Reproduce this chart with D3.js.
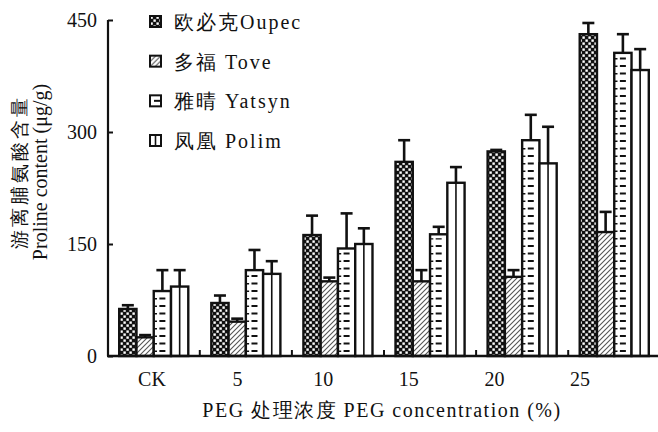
<!DOCTYPE html>
<html>
<head>
<meta charset="utf-8">
<script src="https://cdn.jsdelivr.net/npm/d3@7"></script>
<style>
  html, body { margin: 0; padding: 0; background: #fff; }
  svg { display: block; }
  .serif { font-family: "Liberation Serif"; fill: #111; }
</style>
</head>
<body>
<svg id="chart" width="658" height="432"></svg>
<script>
// PEG concentration groups and their axis labels
const categories = ["CK", "5", "10", "15", "20", "25"];
// Cultivars (legend order)
const seriesKeys = ["oupec", "tove", "yatsyn", "polim"];
const seriesNames = ["欧必克Oupec", "多福 Tove", "雅晴 Yatsyn", "凤凰 Polim"];
// Proline content (μg/g), mean per group
const oupecValues  = [63, 71, 162, 260, 274, 431];
const toveValues   = [25, 46, 100, 100, 106, 166];
const yatsynValues = [87, 115, 144, 163, 289, 406];
const polimValues  = [93, 110, 150, 232, 258, 383];
// Standard errors (upper whiskers)
const oupecErr  = [5, 10, 26, 29, 2, 15];
const toveErr   = [3, 4, 5, 15, 9, 27];
const yatsynErr = [28, 27, 47, 10, 34, 25];
const polimErr  = [22, 17, 21, 21, 49, 28];
// Y axis ticks
const yTicks = [0, 150, 300, 450];

const values = [oupecValues, toveValues, yatsynValues, polimValues];
const errors = [oupecErr, toveErr, yatsynErr, polimErr];

const svg = d3.select("#chart");
const defs = svg.append("defs");

// Checkerboard fill
const chk = defs.append("pattern").attr("id", "fill-oupec")
  .attr("patternUnits", "userSpaceOnUse").attr("width", 6).attr("height", 6);
chk.append("rect").attr("width", 6).attr("height", 6).attr("fill", "#111");
chk.append("rect").attr("x", 0.4).attr("y", 0.4).attr("width", 2.4).attr("height", 2.4).attr("fill", "#fff");
chk.append("rect").attr("x", 3.4).attr("y", 3.4).attr("width", 2.4).attr("height", 2.4).attr("fill", "#fff");

// Diagonal hatch fill
const hat = defs.append("pattern").attr("id", "fill-tove")
  .attr("patternUnits", "userSpaceOnUse").attr("width", 5).attr("height", 5);
hat.append("rect").attr("width", 5).attr("height", 5).attr("fill", "#fff");
hat.append("path").attr("d", "M0,5 L5,0 M-1,1 L1,-1 M4,6 L6,4")
  .attr("stroke", "#555").attr("stroke-width", 1.1);

const fills = ["url(#fill-oupec)", "url(#fill-tove)", "#fff", "#fff"];

// Scales
const y = d3.scaleLinear().domain([0, 450]).range([356, 20]);
const x0 = d3.scaleBand().domain(categories).range([110, 658])
  .paddingInner(0.25).paddingOuter(0.1);
const x1 = d3.scaleBand().domain(seriesKeys).range([0, x0.bandwidth()]);
const xLabel = d3.scalePoint().domain(categories).range([152, 580]);

// Bars
const rows = [];
categories.forEach((c, i) => {
  seriesKeys.forEach((k, j) => {
    rows.push({ c, k, j, v: values[j][i], e: errors[j][i] });
  });
});

const g = svg.append("g");
const bars = g.selectAll("g.bar").data(rows).join("g").attr("class", "bar");
const cx = d => x0(d.c) + x1(d.k) + x1.bandwidth() / 2;

// Error whiskers (drawn under the bars, upper side only)
bars.append("line")
  .attr("x1", cx).attr("x2", cx)
  .attr("y1", d => y(d.v))
  .attr("y2", d => y(d.v + d.e))
  .attr("stroke", "#111").attr("stroke-width", 2.6);
bars.append("line")
  .attr("x1", d => cx(d) - 6).attr("x2", d => cx(d) + 6)
  .attr("y1", d => y(d.v + d.e))
  .attr("y2", d => y(d.v + d.e))
  .attr("stroke", "#111").attr("stroke-width", 2.6);

bars.append("rect")
  .attr("x", d => x0(d.c) + x1(d.k))
  .attr("y", d => y(d.v))
  .attr("width", x1.bandwidth())
  .attr("height", d => y(0) - y(d.v))
  .attr("fill", d => fills[d.j])
  .attr("stroke", "#111").attr("stroke-width", 2.4);

// Yatsyn: short horizontal dashes down the middle
bars.filter(d => d.k === "yatsyn").append("line")
  .attr("x1", cx).attr("x2", cx)
  .attr("y1", d => y(0) - 4)
  .attr("y2", d => y(d.v) + 4)
  .attr("stroke", "#111").attr("stroke-width", 6)
  .attr("stroke-dasharray", "2,5.5");
bars.filter(d => d.k === "yatsyn").append("line")
  .attr("x1", d => x0(d.c) + x1(d.k) + 2)
  .attr("x2", d => x0(d.c) + x1(d.k) + 2)
  .attr("y1", d => y(0) - 4)
  .attr("y2", d => y(d.v) + 4)
  .attr("stroke", "#111").attr("stroke-width", 2.5)
  .attr("stroke-dasharray", "1.5,6");

// Polim: single vertical divider
bars.filter(d => d.k === "polim").append("line")
  .attr("x1", cx).attr("x2", cx)
  .attr("y1", y(0))
  .attr("y2", d => y(d.v))
  .attr("stroke", "#111").attr("stroke-width", 1.6);

// Y axis with inward ticks
const yAxis = svg.append("g").attr("transform", "translate(108,0)")
  .call(d3.axisLeft(y).tickValues(yTicks).tickSize(-5).tickPadding(11));
yAxis.attr("font-family", null).attr("font-size", null);
yAxis.select(".domain").attr("stroke", "#111").attr("stroke-width", 2.2)
  .attr("d", `M0,${y(0)}V${y(450)}`);
yAxis.selectAll(".tick line").attr("stroke", "#111").attr("stroke-width", 2);
yAxis.selectAll(".tick text").attr("class", "serif")
  .style("font-family", "Liberation Serif").style("font-size", "20px");

// X baseline with small inward separators between groups
svg.append("line").attr("x1", 107).attr("x2", 658)
  .attr("y1", y(0)).attr("y2", y(0))
  .attr("stroke", "#111").attr("stroke-width", 2.4);
const seps = categories.slice(1).map(c => x0(c) - x0.step() * x0.paddingInner() / 2);
svg.selectAll("line.sep").data(seps).join("line").attr("class", "sep")
  .attr("x1", d => d).attr("x2", d => d)
  .attr("y1", y(0)).attr("y2", y(0) - 6)
  .attr("stroke", "#111").attr("stroke-width", 2);

// Category labels
svg.selectAll("text.cat").data(categories).join("text").attr("class", "cat serif")
  .attr("x", d => xLabel(d)).attr("y", 386)
  .attr("text-anchor", "middle").style("font-size", "20px")
  .text(d => d);

// Axis titles
svg.append("text").attr("class", "serif").attr("x", 382).attr("y", 417)
  .attr("text-anchor", "middle").style("font-size", "20px")
  .attr("letter-spacing", 1.5)
  .text("PEG 处理浓度 PEG concentration (%)");

svg.append("text").attr("class", "serif").attr("transform", "translate(26,172) rotate(-90)")
  .attr("text-anchor", "middle").style("font-size", "19px")
  .attr("letter-spacing", 3)
  .text("游离脯氨酸含量");
svg.append("text").attr("class", "serif").attr("transform", "translate(47,172) rotate(-90)")
  .attr("text-anchor", "middle").style("font-size", "20px")
  .text("Proline content (μg/g)");

// Legend
const legendY = d3.scalePoint().domain(seriesKeys).range([22, 141]);
const lg = svg.selectAll("g.legend").data(seriesKeys).join("g").attr("class", "legend")
  .attr("transform", k => `translate(150,${legendY(k)})`);
lg.append("rect").attr("x", 0).attr("y", -6).attr("width", 11).attr("height", 11)
  .attr("fill", (k, i) => fills[i]).attr("stroke", "#111").attr("stroke-width", 2);
lg.filter(k => k === "yatsyn").append("line")
  .attr("x1", 4).attr("x2", 11).attr("y1", -0.5).attr("y2", -0.5)
  .attr("stroke", "#111").attr("stroke-width", 2);
lg.filter(k => k === "polim").append("line")
  .attr("x1", 5.5).attr("x2", 5.5).attr("y1", -6).attr("y2", 5)
  .attr("stroke", "#111").attr("stroke-width", 1.6);
lg.append("text").attr("class", "serif").attr("x", 24).attr("y", 7)
  .style("font-size", "20px").attr("letter-spacing", 2)
  .text((k, i) => seriesNames[i]);
</script>
</body>
</html>
